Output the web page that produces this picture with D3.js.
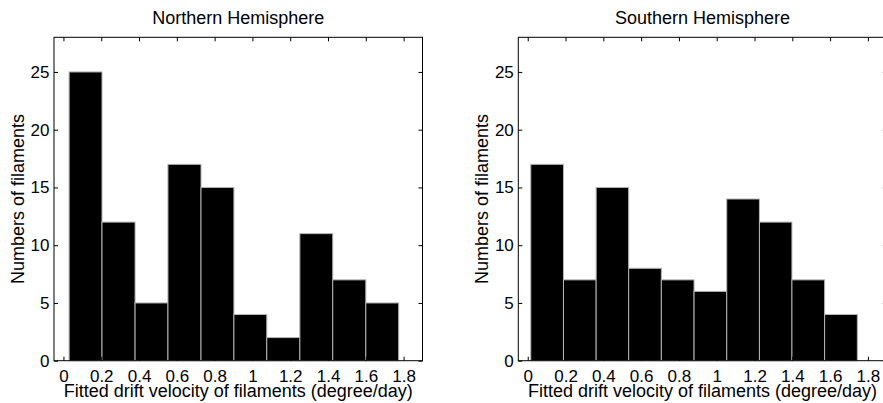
<!DOCTYPE html>
<html>
<head>
<meta charset="utf-8">
<script src="https://cdn.jsdelivr.net/npm/d3@7"></script>
<style>
  html, body { margin: 0; padding: 0; background: #fff; }
  svg { display: block; }
  text { font-family: "Liberation Sans", Arial, Helvetica, sans-serif; fill: #000; }
</style>
</head>
<body>
<svg id="chart" width="883" height="403"></svg>
<script>
// ---- data ----
const titles = ["Northern Hemisphere", "Southern Hemisphere"];
const xLabel = "Fitted drift velocity of filaments (degree/day)";
const yLabel = "Numbers of filaments";
const northEdges = [0.030, 0.204, 0.379, 0.553, 0.728, 0.902, 1.076, 1.251, 1.425, 1.600, 1.774];
const northCounts = [25, 12, 5, 17, 15, 4, 2, 11, 7, 5];
const southEdges = [0.016, 0.189, 0.362, 0.534, 0.707, 0.880, 1.053, 1.226, 1.398, 1.571, 1.744];
const southCounts = [17, 7, 15, 8, 7, 6, 14, 12, 7, 4];
const xTicks = [0, 0.2, 0.4, 0.6, 0.8, 1, 1.2, 1.4, 1.6, 1.8];
const yTicks = [0, 5, 10, 15, 20, 25];
const xDomain = [-0.05, 1.9];
const yDomain = [0, 28];

const svg = d3.select("#chart");
const plotTop = 37.3, plotBottom = 360.7;
const panels = [
  { title: titles[0], edges: northEdges, counts: northCounts, x0: 54, x1: 422.5 },
  { title: titles[1], edges: southEdges, counts: southCounts, x0: 518.3, x1: 886.8 }
];

const y = d3.scaleLinear().domain(yDomain).range([plotBottom, plotTop]);
const tickLen = 4;

panels.forEach(p => {
  const x = d3.scaleLinear().domain(xDomain).range([p.x0, p.x1]);
  const g = svg.append("g");

  // bars
  const bins = p.counts.map((c, i) => ({ lo: p.edges[i], hi: p.edges[i + 1], c }));
  g.selectAll("rect.bar").data(bins).enter().append("rect")
    .attr("class", "bar")
    .attr("x", d => x(d.lo))
    .attr("width", d => x(d.hi) - x(d.lo))
    .attr("y", d => y(d.c))
    .attr("height", d => y(0) - y(d.c))
    .attr("fill", "#000")
    .attr("stroke", "#b4b4b4")
    .attr("stroke-width", 1);

  // box
  g.append("rect")
    .attr("x", p.x0).attr("y", plotTop)
    .attr("width", p.x1 - p.x0).attr("height", plotBottom - plotTop)
    .attr("fill", "none").attr("stroke", "#000").attr("stroke-width", 1);

  // x ticks (inward, bottom and top)
  const xAxisB = d3.axisBottom(x).tickValues(xTicks).tickSizeInner(-tickLen).tickSizeOuter(0)
    .tickFormat(d => String(+d.toFixed(1)));
  const gxb = g.append("g").attr("transform", `translate(0,${plotBottom})`).call(xAxisB);
  gxb.select(".domain").remove();
  gxb.selectAll("text").attr("font-size", 17).attr("dy", "0.71em").attr("y", 9);
  gxb.selectAll("line").attr("stroke", "#000");

  const xAxisT = d3.axisTop(x).tickValues(xTicks).tickSizeInner(-tickLen).tickSizeOuter(0).tickFormat("");
  const gxt = g.append("g").attr("transform", `translate(0,${plotTop})`).call(xAxisT);
  gxt.select(".domain").remove();
  gxt.selectAll("line").attr("stroke", "#000");

  // y ticks (inward, left and right)
  const yAxisL = d3.axisLeft(y).tickValues(yTicks).tickSizeInner(-tickLen).tickSizeOuter(0);
  const gyl = g.append("g").attr("transform", `translate(${p.x0},0)`).call(yAxisL);
  gyl.select(".domain").remove();
  gyl.selectAll("text").attr("font-size", 17).attr("x", -4.5);
  gyl.selectAll("line").attr("stroke", "#000");

  const yAxisR = d3.axisRight(y).tickValues(yTicks).tickSizeInner(-tickLen).tickSizeOuter(0).tickFormat("");
  const gyr = g.append("g").attr("transform", `translate(${p.x1},0)`).call(yAxisR);
  gyr.select(".domain").remove();
  gyr.selectAll("line").attr("stroke", "#000");

  const cx = (p.x0 + p.x1) / 2;
  // title
  g.append("text").attr("x", cx).attr("y", 24.3)
    .attr("text-anchor", "middle").attr("font-size", 18).text(p.title);
  // x label
  g.append("text").attr("x", cx).attr("y", 397)
    .attr("text-anchor", "middle").attr("font-size", 18).text(xLabel);
  // y label
  g.append("text")
    .attr("transform", `translate(${p.x0 - 30},${(plotTop + plotBottom) / 2}) rotate(-90)`)
    .attr("text-anchor", "middle").attr("font-size", 18).text(yLabel);
});
</script>
</body>
</html>
